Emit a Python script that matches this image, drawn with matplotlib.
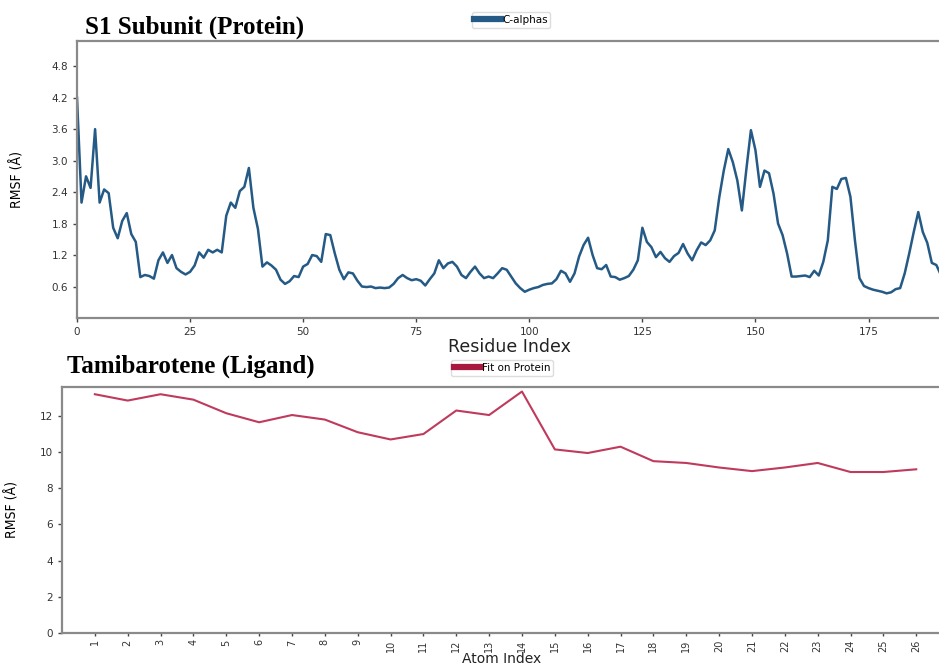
import numpy as np
import matplotlib
matplotlib.use("Agg")
import matplotlib.pyplot as plt

# S1 subunit C-alpha RMSF, residue index 0..191
ca_rmsf = [
    4.2, 2.2, 2.7, 2.48, 3.6, 2.2, 2.45, 2.38, 1.72, 1.52,
    1.85, 2.0, 1.6, 1.45, 0.78, 0.82, 0.8, 0.75, 1.1, 1.25,
    1.05, 1.2, 0.95, 0.88, 0.83, 0.88, 1.0, 1.25, 1.15, 1.3,
    1.25, 1.3, 1.25, 1.95, 2.2, 2.1, 2.42, 2.5, 2.86, 2.1,
    1.7, 0.98, 1.06, 1.0, 0.92, 0.73, 0.65, 0.7, 0.8, 0.78,
    0.98, 1.03, 1.2, 1.18, 1.07, 1.6, 1.58, 1.23, 0.92, 0.74,
    0.87, 0.85, 0.71, 0.6, 0.59, 0.6, 0.57, 0.58, 0.57, 0.58,
    0.65, 0.76, 0.82, 0.76, 0.72, 0.74, 0.71, 0.62, 0.74, 0.85,
    1.1, 0.95, 1.04, 1.07, 0.98, 0.82, 0.76, 0.88, 0.98, 0.85,
    0.76, 0.79, 0.76, 0.85, 0.95, 0.92, 0.79, 0.66, 0.57, 0.5,
    0.54, 0.57, 0.59, 0.63, 0.65, 0.66, 0.74, 0.9, 0.85, 0.69,
    0.85, 1.17, 1.39, 1.53, 1.2, 0.95, 0.93, 1.01, 0.79, 0.78,
    0.73, 0.76, 0.8, 0.92, 1.1, 1.72, 1.45, 1.35, 1.16, 1.26,
    1.14, 1.07, 1.18, 1.24, 1.41, 1.23, 1.1, 1.29, 1.44, 1.39,
    1.48, 1.67, 2.3, 2.81, 3.22, 2.97, 2.62, 2.05, 2.84, 3.58,
    3.2, 2.5, 2.81, 2.76, 2.37, 1.8, 1.58, 1.23, 0.79, 0.79,
    0.8, 0.81, 0.78, 0.9, 0.81, 1.07, 1.48, 2.5, 2.46, 2.65,
    2.67, 2.31, 1.48, 0.76, 0.61, 0.57, 0.54, 0.52, 0.5, 0.47,
    0.49, 0.55, 0.57, 0.85, 1.23, 1.64, 2.02, 1.64, 1.43, 1.05,
    1.01, 0.82,
]
residue_ticks = [0, 25, 50, 75, 100, 125, 150, 175]
ca_yticks = [0.6, 1.2, 1.8, 2.4, 3.0, 3.6, 4.2, 4.8]

# Tamibarotene ligand RMSF (fit on protein), atoms 1..26
atom_index = list(range(1, 27))
lig_rmsf = [
    13.2, 12.85, 13.2, 12.9, 12.15, 11.65, 12.05, 11.8, 11.1, 10.7,
    11.0, 12.3, 12.05, 13.35, 10.15, 9.95, 10.3, 9.5, 9.4, 9.15,
    8.95, 9.15, 9.4, 8.9, 8.9, 9.05,
]
lig_yticks = [0, 2, 4, 6, 8, 10, 12]

blue = "#245a85"
red = "#bf3a5c"
spine_c = "#8a8a8a"

fig = plt.figure(figsize=(9.39, 6.67), dpi=100)


def style_axes(ax):
    for s in ("left", "bottom", "top"):
        ax.spines[s].set_color(spine_c)
        ax.spines[s].set_linewidth(1.6)
    ax.spines["right"].set_visible(False)
    ax.tick_params(axis="both", labelsize=7.5, length=3, width=1, color="#444444",
                   labelcolor="#333333")


def make_legend(ax, xy, patch_color):
    leg = fig.legend(handles=ax.get_lines(), loc="center", bbox_to_anchor=xy,
                     fontsize=7.5, handlelength=2.6, handletextpad=0.1, borderpad=0.25,
                     framealpha=1, edgecolor="#dddddd", fancybox=True)
    for h in leg.legend_handles:
        h.set_linewidth(4.5)
        h.set_color(patch_color)
    return leg


ylab_kw = dict(fontsize=10, family="DejaVu Sans", stretch="condensed")

# top panel
ax1 = fig.add_axes([77 / 939, 1 - 318 / 667, 1 - 77 / 939 + 0.002, (318 - 41) / 667])
style_axes(ax1)
x_res = np.arange(len(ca_rmsf))
ax1.plot(x_res, ca_rmsf, color=blue, lw=1.8, label="C-alphas")
ax1.set_xlim(0, 191)
ax1.set_ylim(0, 5.28)
ax1.set_xticks(residue_ticks)
ax1.set_yticks(ca_yticks)
ax1.set_xlabel("Residue Index", fontsize=12.5, color="#222222")
ax1.xaxis.set_label_coords(0.5, -(338 - 318) / (318 - 41), transform=ax1.transAxes)
ax1.xaxis.label.set_va("top")
ax1.set_ylabel("RMSF (Å)", **ylab_kw)
ax1.yaxis.set_label_coords(-(77 - 25) / 939 / (1 - 77 / 939 + 0.002), 0.5)
fig.text(85 / 939, 1 - 27 / 667, "S1 Subunit (Protein)", family="Liberation Serif",
         fontweight="bold", fontsize=18, va="center", ha="left")
make_legend(ax1, (511 / 939, 1 - 20 / 667), blue)

# bottom panel
ax2 = fig.add_axes([62 / 939, 1 - 633 / 667, 1 - 62 / 939 + 0.002, (633 - 387) / 667])
style_axes(ax2)
ax2.tick_params(axis="x", labelsize=7, pad=2, length=2.5)
ax2.plot(atom_index, lig_rmsf, color=red, lw=1.5, label="Fit on Protein")
ax2.set_xlim(0, 26.75)
ax2.set_ylim(0, 13.6)
ax2.set_xticks(atom_index)
ax2.set_xticklabels([str(a) for a in atom_index], rotation=90)
ax2.set_yticks(lig_yticks)
ax2.set_xlabel("Atom Index", fontsize=10, color="#222222")
ax2.xaxis.set_label_coords(0.5, -(666 - 633) / (633 - 387), transform=ax2.transAxes)
ax2.xaxis.label.set_va("bottom")
ax2.set_ylabel("RMSF (Å)", **ylab_kw)
ax2.yaxis.set_label_coords(-(62 - 20) / 939 / (1 - 62 / 939 + 0.002), 0.5)
fig.text(67 / 939, 1 - 366 / 667, "Tamibarotene (Ligand)", family="Liberation Serif",
         fontweight="bold", fontsize=18, va="center", ha="left")
make_legend(ax2, (502 / 939, 1 - 368 / 667), "#a8183f")

fig.savefig("out.png", dpi=100)
